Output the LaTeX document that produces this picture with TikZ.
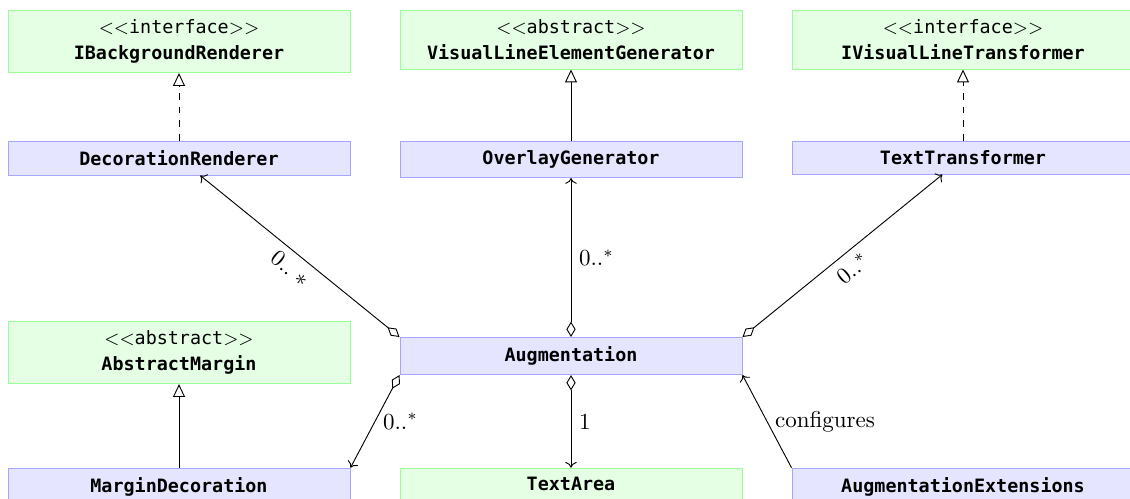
\documentclass[tikz,border=0pt]{standalone}
\usepackage{amsmath}
\usepackage{fontspec}
\setmonofont{DejaVu Sans Mono}
\usetikzlibrary{positioning,arrows.meta}

\begin{document}
\begin{tikzpicture}[x=0.435pt, y=-0.435pt,
		every node/.style={font=\footnotesize\ttfamily},
		abstr/.style={draw=green!40, fill=green!10, anchor=north, minimum width=148.8pt, inner ysep=4pt, align=center},
		cls/.style={draw=blue!35, fill=blue!10, anchor=north, minimum width=148.8pt, inner ysep=4pt},
		impl/.style={-{Triangle[open, length=5.6pt, width=5.2pt]}},
		aggr/.style={{Diamond[open, length=6.7pt, width=4pt]}-{To[length=2.5pt, width=5pt]}},
		lbl/.style={font=\rmfamily\normalsize}]
			\useasboundingbox (0,0) rectangle (1130,499);

			\node(ibr)	[abstr] at (179,10) {$<<$interface$>>$\\[1.8pt]\textbf{IBackgroundRenderer}};
			\node(vleg)	[abstr] at (571,10) {$<<$abstract$>>$\\[1.8pt]\textbf{VisualLineElementGenerator}};
			\node(ivlt)	[abstr] at (963,10) {$<<$interface$>>$\\[1.8pt]\textbf{IVisualLineTransformer}};
			\node(dr)	[cls] at (179,141) {\textbf{DecorationRenderer}};
			\node(og)	[cls] at (571,141) {\textbf{OverlayGenerator}};
			\node(tt)	[cls] at (963,141) {\textbf{TextTransformer}};
			\node(am)	[abstr] at (179,321) {$<<$abstract$>>$\\[1.8pt]\textbf{AbstractMargin}};
			\node(aug)	[cls] at (571,337) {\textbf{Augmentation}};
			\node(md)	[cls] at (179,467.7) {\textbf{MarginDecoration}};
			\node(ta)	[abstr] at (571,467.7) {\textbf{TextArea}};
			\node(ae)	[cls] at (963,467.7) {\textbf{AugmentationExtensions}};

			\draw[impl, dashed] (dr) -- (ibr);
			\draw[impl] (og) -- (vleg);
			\draw[impl, dashed] (tt) -- (ivlt);
			\draw[impl] (md) -- (am);
			\draw[aggr] (aug.north west) -- (dr) node[midway, sloped, below, lbl] {$0..\;\ast$};
			\draw[aggr] (aug) -- (og) node[midway, right, lbl] {$0..^*$};
			\draw[aggr] (aug.north east) -- (tt) node[midway, sloped, below, lbl] {$0..^*$};
			\draw[aggr] (aug.south west) -- (md.north east) node[midway, right, lbl] {$0..^*$};
			\draw[aggr] (aug) -- (ta) node[midway, right, lbl] {1};
			\draw[-{To[length=2.5pt, width=5pt]}] (ae.north west) -- (aug.south east) node[midway, right, lbl] {configures};
		\end{tikzpicture}
\end{document}
